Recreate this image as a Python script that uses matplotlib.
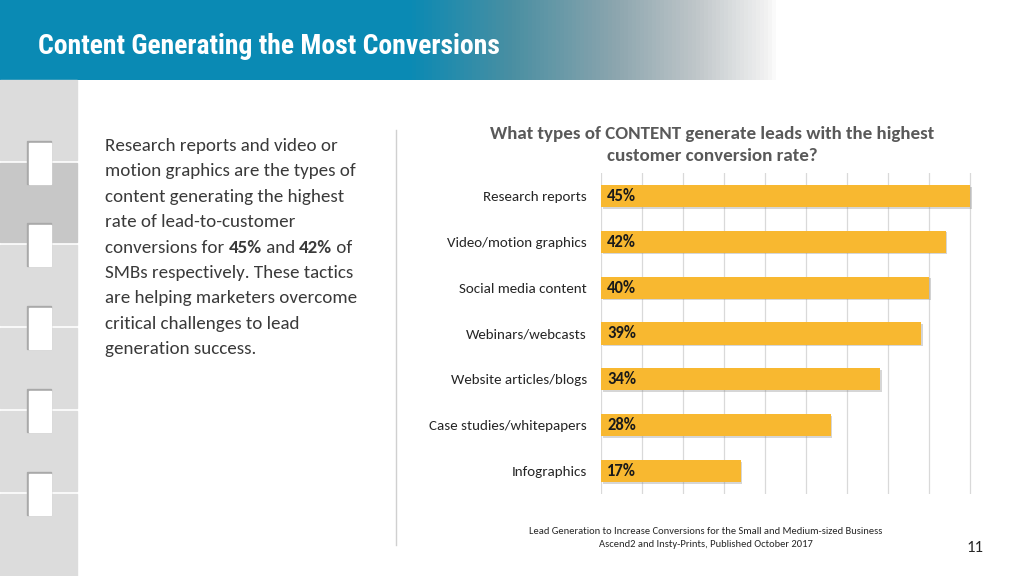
import matplotlib
matplotlib.use("Agg")
import matplotlib.pyplot as plt
import matplotlib.patheffects as pe
from matplotlib.patches import Rectangle
from matplotlib.colors import LinearSegmentedColormap
import numpy as np

W, H = 1024, 576

categories = ["Research reports", "Video/motion graphics", "Social media content",
              "Webinars/webcasts", "Website articles/blogs", "Case studies/whitepapers",
              "Infographics"]
values = [45, 42, 40, 39, 34, 28, 17]

slide_title = "Content Generating the Most Conversions"
chart_title = "What types of CONTENT generate leads with the highest\ncustomer conversion rate?"
source_lines = ["Lead Generation to Increase Conversions for the Small and Medium-sized Business",
                "Ascend2 and Insty-Prints, Published October 2017"]
page_no = "11"

# body text, each line as (text, bold) pieces
body = [
    [("Research reports and video or", False)],
    [("motion graphics are the types of", False)],
    [("content generating the highest", False)],
    [("rate of lead-to-customer", False)],
    [("conversions for ", False), ("45%", True), (" and ", False), ("42%", True), (" of", False)],
    [("SMBs respectively. These tactics", False)],
    [("are helping marketers overcome", False)],
    [("critical challenges to lead", False)],
    [("generation success.", False)],
]

BAR = "#f8b830"
TXT = "#3a3a3a"
FONT = ["Carlito", "DejaVu Sans"]
NARROW = ["Roboto Condensed", "DejaVu Sans"]


def fx(x):
    return x / W


def fy(y):
    return 1 - y / H


fig = plt.figure(figsize=(10.24, 5.76), dpi=100)
fig.patch.set_facecolor("white")

# header band with gradient
hax = fig.add_axes([0, fy(80), 1, 80 / H])
cmap = LinearSegmentedColormap.from_list("hdr", [
    (0.0, "#0a8ab4"), (0.40, "#0a8ab4"), (0.50, "#4a8fa2"), (0.60, "#8ba5ae"),
    (0.68, "#bfc6c9"), (0.75, "#f2f2f2"), (0.76, "#ffffff"), (1.0, "#ffffff")])
hax.imshow(np.linspace(0, 1, 512)[None, :], aspect="auto", cmap=cmap,
           extent=[0, 1, 0, 1])
hax.set_axis_off()
fig.text(fx(38), fy(47), slide_title, color="white", fontsize=19.9,
         fontweight="bold", family=NARROW, va="center", ha="left")

# left decorative column
blocks = [(80, 160), (163, 242), (245, 325), (328, 408), (411, 491), (494, 576)]
for i, (y0, y1) in enumerate(blocks):
    c = "#c7c7c7" if i == 1 else "#dcdcdc"
    fig.patches.append(Rectangle((0, fy(y1)), fx(77), (y1 - y0) / H,
                                 transform=fig.transFigure, color=c, zorder=1))
for y0, _ in blocks[1:]:
    top, bot = y0 - 22, y0 + 21
    fig.patches.append(Rectangle((fx(27), fy(bot)), fx(24), (bot - top) / H,
                                 transform=fig.transFigure, color="#a9a9a9", zorder=2))
    fig.patches.append(Rectangle((fx(29), fy(bot)), fx(22), (bot - top - 2) / H,
                                 transform=fig.transFigure, color="white", zorder=3))

# divider
fig.add_artist(plt.Line2D([fx(396), fx(396)], [fy(130), fy(545)],
                          transform=fig.transFigure, color="#d0d0d0", lw=1))

# body text with bold pieces
renderer = fig.canvas.get_renderer()
for i, pieces in enumerate(body):
    x = 105
    y = 146 + i * 25.4
    for s, b in pieces:
        t = fig.text(fx(x), fy(y), s, fontsize=13.7, family=FONT, color=TXT,
                     fontweight="bold" if b else "normal", va="center", ha="left")
        x += t.get_window_extent(renderer).width

# chart
ax = fig.add_axes([fx(601), fy(494), fx(972) - fx(601), (494 - 173) / H])
ypos = np.arange(len(categories))
bars = ax.barh(ypos, values, height=0.48, color=BAR, zorder=3)
for b in bars:
    b.set_path_effects([pe.SimplePatchShadow(offset=(1.2, -1.2), shadow_rgbFace="#8a8a8a",
                                             alpha=0.35), pe.Normal()])
ax.set_ylim(len(categories) - 0.5, -0.5)
ax.set_xlim(0, 45.2)
ax.set_xticks(np.arange(0, 46, 5))
ax.grid(axis="x", color="#d9d9d9", lw=0.9, zorder=0)
ax.tick_params(length=0, labelbottom=False)
ax.set_yticks(ypos)
ax.set_yticklabels(categories, fontsize=10.8, family=FONT, color="#262626")
ax.tick_params(axis="y", pad=10)
for sp in ax.spines.values():
    sp.set_visible(False)
ax.set_facecolor("none")
for yv, v in zip(ypos, values):
    ax.annotate(f"{v}%", (0, yv), xytext=(4.5, 0), textcoords="offset points",
                va="center", ha="left", fontsize=12, fontweight="bold",
                family=FONT, color="#1a1a1a", zorder=4)

fig.text(fx(712), fy(145), chart_title, ha="center", va="center", fontsize=13.7,
         fontweight="bold", family=FONT, color="#595959", linespacing=1.4)

fig.text(fx(706), fy(538), "\n".join(source_lines), ha="center", va="center",
         fontsize=7.6, family=FONT, color="#262626", linespacing=1.45)
fig.text(fx(975), fy(548), page_no, ha="center", va="center", fontsize=12,
         family=FONT, color="#262626")

fig.savefig("out.png", dpi=100)
